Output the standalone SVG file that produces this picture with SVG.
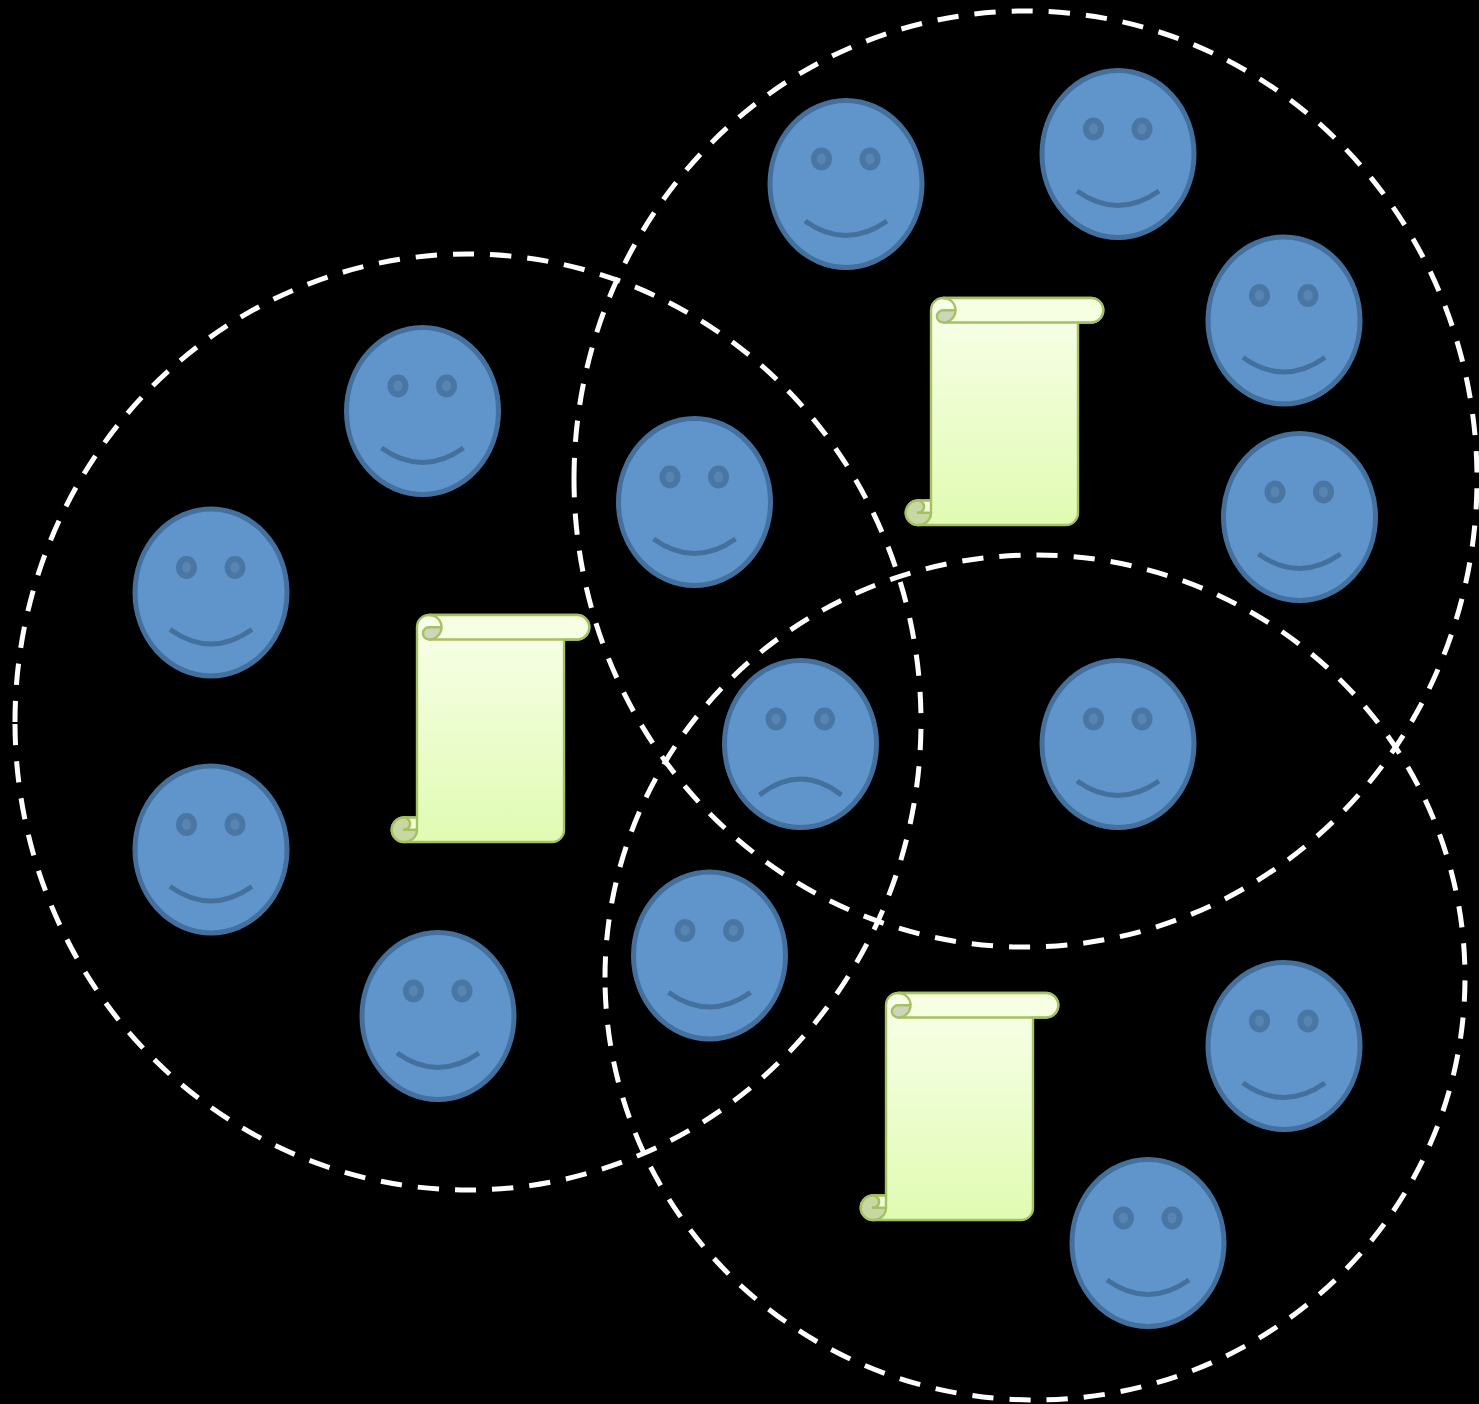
<svg xmlns="http://www.w3.org/2000/svg" width="1479" height="1404" viewBox="0 0 1479 1404">
<style>
.ring{fill:none;stroke:#fff;stroke-width:5;stroke-dasharray:21.270 16}
.head{fill:#5f95cb;stroke:#44709e;stroke-width:5}
.eye{fill:#5784b0;stroke:#4a76a4;stroke-width:6}
.mouth{fill:none;stroke:#44709e;stroke-width:5}
.sc{stroke:#a5c162;stroke-width:2.400;stroke-linejoin:round}
</style>
<defs>
<linearGradient id="paper" x1="0" y1="0" x2="0" y2="1"><stop offset="0" stop-color="#f9ffea"/><stop offset="1" stop-color="#e0fbb2"/></linearGradient>
<g id="smile">
<ellipse class="head" cx="0" cy="0" rx="76" ry="83.500"/>
<ellipse class="eye" cx="-24.500" cy="-25" rx="7.600" ry="8.500"/>
<ellipse class="eye" cx="24" cy="-25" rx="7.600" ry="8.500"/>
<path class="mouth" d="M-41 37Q0 66 41 37"/>
</g>
<g id="frown">
<ellipse class="head" cx="0" cy="0" rx="76" ry="83.500"/>
<ellipse class="eye" cx="-24.500" cy="-25" rx="7.600" ry="8.500"/>
<ellipse class="eye" cx="24" cy="-25" rx="7.600" ry="8.500"/>
<path class="mouth" d="M-41 51Q0 19 41 51"/>
</g>
<g id="scroll">
<path class="sc" fill="url(#paper)" d="M12 0H160a12.200 12.200 0 0 1 0 24.500H147V215a12 12 0 0 1-12 12H-13a12.200 12.200 0 0 1 0-24.500H0V12A12 12 0 0 1 12 0Z"/>
<path fill="#f6ffe2" stroke="none" d="M13 1H160a11.200 11.200 0 0 1 0 22.500H13a11.200 11.200 0 0 0 0-22.500Z"/>
<path class="sc" fill="none" d="M12 24.500H160a12.200 12.200 0 0 0 0-24.500H12"/>
<path class="sc" fill="#cdd6ba" d="M12 24.500a6.100 6.100 0 0 1 0-12.200H24.500A12.300 12.300 0 0 1 12 24.500Z"/>
<path class="sc" fill="none" d="M12 0a12.200 12.200 0 0 1 12.500 12.300"/>
<path class="sc" fill="#c9d8a2" d="M-13 202.500a12.200 12.200 0 0 0 0 24.500A12.200 12.200 0 0 0 0 214.800H-13a6.100 6.100 0 0 0 0-12.300Z"/>
<path class="sc" fill="#f2fdd8" d="M-13 202.500H0V214.800H-13a6.100 6.100 0 0 0 0-12.300Z"/>
</g>
</defs>
<rect width="1479" height="1404" fill="#000"/>
<g id="connectors">
<path class="ring" d="M15 722A453 468 0 1 1 921 722A453 468 0 1 1 15 722"/>
<path class="ring" d="M574 479A451.500 468 0 1 1 1477 479A451.500 468 0 1 1 574 479"/>
<path class="ring" d="M605 977.500A430 422.500 0 1 1 1465 977.500A430 422.500 0 1 1 605 977.500"/>
</g>
<g id="face-1"><use href="#smile" x="846" y="184"/></g>
<g id="face-2"><use href="#smile" x="1118" y="154"/></g>
<g id="face-3"><use href="#smile" x="1284" y="320.500"/></g>
<g id="face-4"><use href="#smile" x="1299.500" y="517"/></g>
<g id="face-5"><use href="#smile" x="694.500" y="502"/></g>
<g id="face-6"><use href="#smile" x="422.500" y="411"/></g>
<g id="face-7"><use href="#smile" x="211" y="592.500"/></g>
<g id="face-8"><use href="#smile" x="211" y="849.500"/></g>
<g id="face-9"><use href="#smile" x="438" y="1016"/></g>
<g id="face-10"><use href="#smile" x="709.500" y="955.500"/></g>
<g id="face-11"><use href="#frown" x="800.500" y="744"/></g>
<g id="face-12"><use href="#smile" x="1118" y="744"/></g>
<g id="face-13"><use href="#smile" x="1284" y="1046"/></g>
<g id="face-14"><use href="#smile" x="1148" y="1243"/></g>
<g id="scroll-1"><use href="#scroll" x="417" y="615"/></g>
<g id="scroll-2"><use href="#scroll" x="931" y="298"/></g>
<g id="scroll-3"><use href="#scroll" x="886" y="993"/></g>
</svg>
